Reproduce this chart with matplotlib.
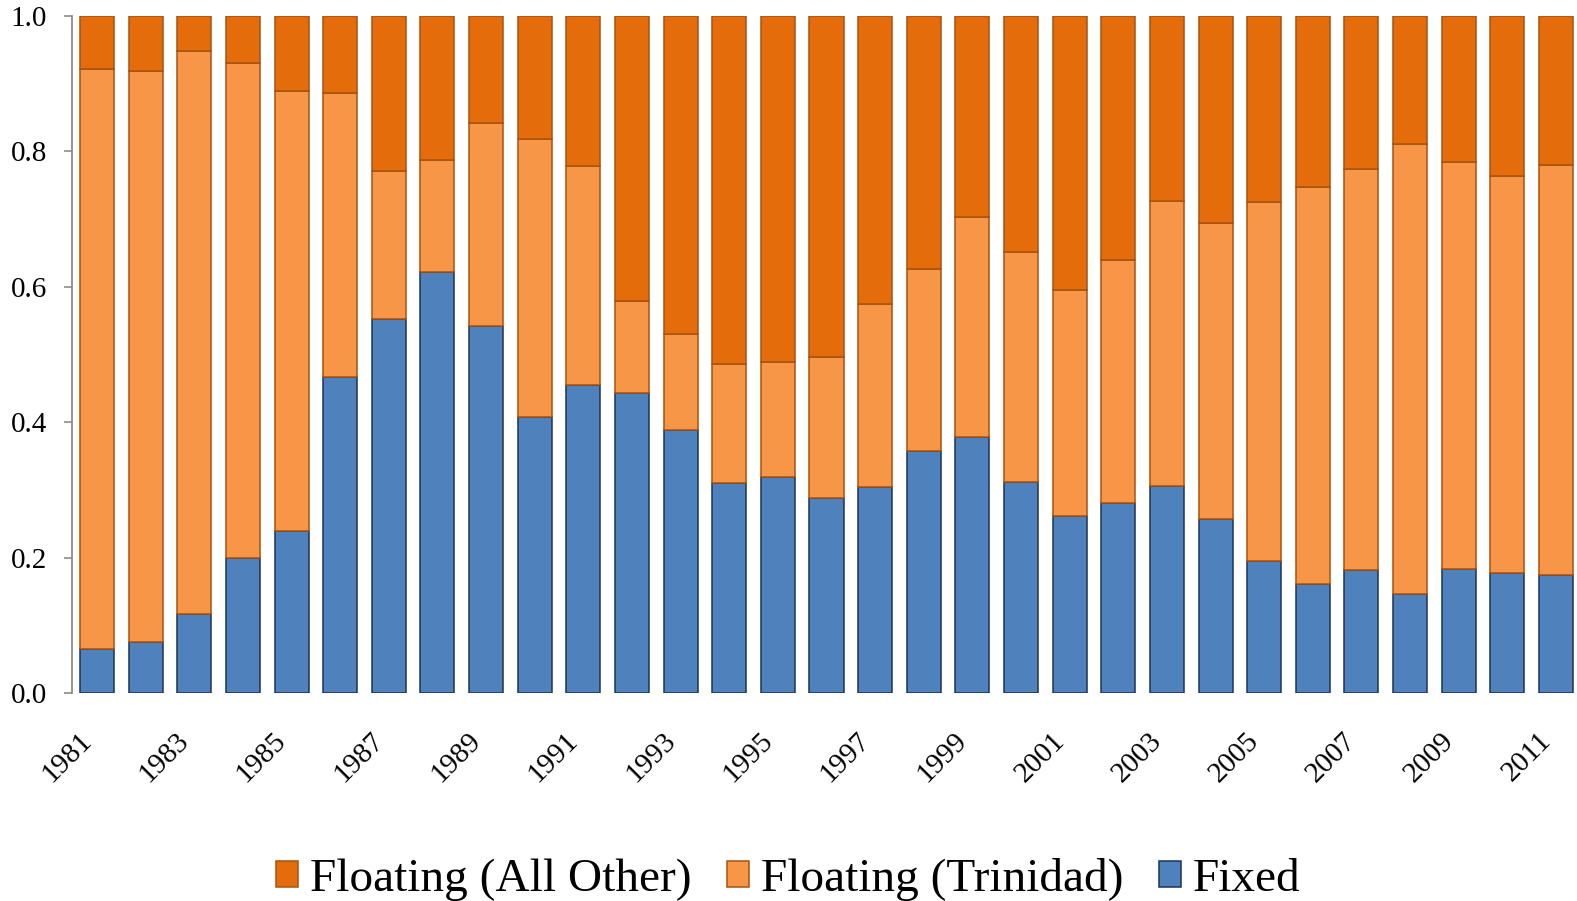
import matplotlib
matplotlib.use('Agg')
import matplotlib.pyplot as plt
import matplotlib.transforms as mtransforms
import numpy as np

# =============================================================================
# DATA
# =============================================================================

years = list(range(1981, 2012))

fixed = [0.065, 0.075, 0.117, 0.200, 0.240, 0.467, 0.552, 0.622, 0.542, 0.408,
         0.455, 0.443, 0.388, 0.310, 0.319, 0.288, 0.304, 0.357, 0.378, 0.312,
         0.261, 0.281, 0.306, 0.257, 0.195, 0.161, 0.182, 0.146, 0.183, 0.177,
         0.174]

trinidad = [0.857, 0.844, 0.831, 0.731, 0.649, 0.419, 0.219, 0.165, 0.300, 0.410,
            0.323, 0.136, 0.142, 0.176, 0.170, 0.208, 0.271, 0.269, 0.325, 0.339,
            0.334, 0.359, 0.421, 0.437, 0.530, 0.586, 0.592, 0.665, 0.601, 0.587,
            0.606]

all_other = [0.078, 0.081, 0.052, 0.069, 0.111, 0.114, 0.229, 0.213, 0.158, 0.182,
             0.222, 0.421, 0.470, 0.514, 0.511, 0.504, 0.425, 0.374, 0.297, 0.349,
             0.405, 0.360, 0.273, 0.306, 0.275, 0.253, 0.226, 0.189, 0.216, 0.236,
             0.220]

labels = ['Floating (All Other)', 'Floating (Trinidad)', 'Fixed']

# =============================================================================
# PLOT
# =============================================================================

plt.rcParams['font.family'] = ['Liberation Serif', 'DejaVu Serif']

fig = plt.figure(figsize=(15.77, 9.01), dpi=100)
ax = fig.add_axes([72/1577, 1-693/901, (1581-72)/1577, (693-16)/901])

x = np.arange(len(years))
w = 0.70
fixed = np.array(fixed)
trinidad = np.array(trinidad)
all_other = np.array(all_other)

b_fix = ax.bar(x, fixed, w, color='#4F81BD', edgecolor='#1C3355',
               linewidth=1.1, label=labels[2])
b_tri = ax.bar(x, trinidad, w, bottom=fixed, color='#F79646',
               edgecolor='#A8520E', linewidth=1.1, label=labels[1])
b_oth = ax.bar(x, all_other, w, bottom=fixed+trinidad, color='#E46C0A',
               edgecolor='#A8520E', linewidth=1.1, label=labels[0])

ax.set_xlim(-0.514, len(years)-1+0.514)
ax.set_ylim(0, 1.0)
ax.set_yticks(np.arange(0, 1.01, 0.2))
ax.set_yticklabels(['%.1f' % v for v in np.arange(0, 1.01, 0.2)])
ax.set_xticks(x[::2])
ax.set_xticklabels([str(y) for y in years[::2]], rotation=45, ha='right')

# nudge rotated year labels a little to the right
shift = mtransforms.ScaledTranslation(4/100, 0, fig.dpi_scale_trans)
for lab in ax.get_xticklabels():
    lab.set_transform(lab.get_transform() + shift)

for s in ['top', 'right', 'bottom']:
    ax.spines[s].set_visible(False)
ax.spines['left'].set_color('#8C8C8C')
ax.spines['left'].set_linewidth(1.3)

ax.tick_params(axis='y', length=6, width=1.2, color='#8C8C8C',
               labelsize=21, pad=12)
ax.tick_params(axis='x', length=0, labelsize=21, pad=25)

fig.legend(handles=[b_oth, b_tri, b_fix], labels=labels, loc='center',
           bbox_to_anchor=(0.5, 0.024), ncol=3, frameon=False, fontsize=34,
           handlelength=0.47, handleheight=0.47, handletextpad=0.25,
           columnspacing=0.75, borderpad=0.2)

fig.savefig('out.png', dpi=100)
